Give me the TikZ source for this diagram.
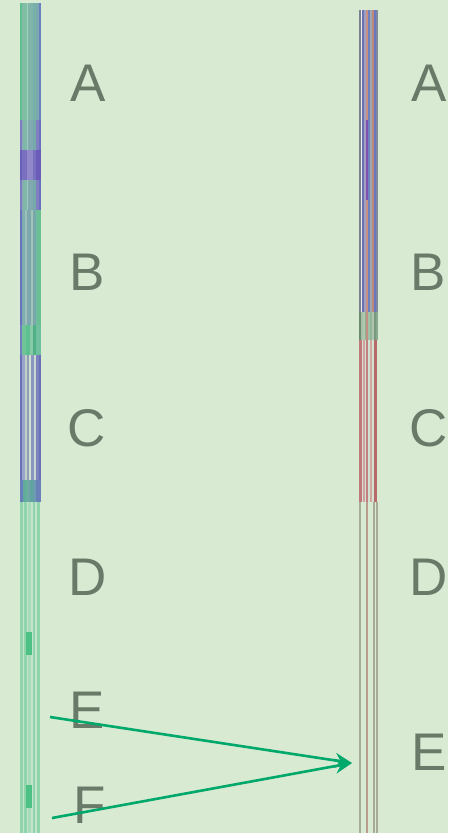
\documentclass[tikz,border=0pt]{standalone}
\usepackage{fontspec}
\setmainfont{Liberation Sans}
\usetikzlibrary{arrows.meta}
\definecolor{fundo}{HTML}{d9ead3}
\definecolor{letra}{HTML}{6a7a68}
\definecolor{seta}{HTML}{00a86b}
\begin{document}
\begin{tikzpicture}[x=1pt, y=-1pt,
  rotulo/.style={font=\fontsize{53}{53}\selectfont, text=letra, inner sep=0pt, anchor=center},
  ligacao/.style={-{Stealth[length=17pt, width=15pt]}, line width=2.6pt, draw=seta}]
% ---- fundo e limites
\fill[fundo] (0,0) rectangle (448,833);
\useasboundingbox (0,0) rectangle (448,833);
% ---- coluna da esquerda
\foreach \ya/\yb/\lista in {
  3/120/{20/22/5cc08f,22/24/86b9a8,24/27/7fc0a5,27/28/a3cfc0,28/33/80b5aa,33/36/76b0a8,36/39/7aa9b0,39/41/6a7fc0},
  120/150/{20/22/7c7cc0,22/24/86b0b0,24/27/7fb8a8,27/28/a3c8c0,28/33/80aab0,33/36/76a8ac,36/39/8080c0,39/41/6a70c0},
  150/180/{20/22/6a60b8,22/27/7a70c0,27/33/9088c8,33/36/7a70c0,36/41/6a5cb8},
  180/210/{20/22/7c7cc0,22/24/86b0b0,24/27/7fb8a8,27/28/a3c8c0,28/33/80aab0,33/36/76a8ac,36/39/8080c0,39/41/6a70c0},
  210/325/{20/22/6a70c0,22/25/80aeb0,25/27/9cc0b8,27/31/7fa8ae,31/33/a0c4b8,33/36/78a8ac,36/39/6cbf9a,39/41/6ac08f},
  325/355/{20/22/7080c0,22/26/70c498,26/30/5cc090,30/33/8ac8a8,33/36/50b088,36/41/70c0a0},
  355/480/{20/22/6a70b8,22/25/9aa4c8,25/27/c0d0c8,27/29/90a0b0,29/31/d0e0d0,31/34/8a98c0,34/36/c8d8d0,36/39/7c84c0,39/41/6a70b8},
  480/502/{20/23/6a80b8,23/25/62a8a0,25/27/60b494,27/30/70a8a8,30/33/5fa4a0,33/36/6a9cb0,36/41/6a80b8},
  502/833/{20/23/8fd4aa,23/24/c4e3cc,24/26.5/8fd4aa,26.5/28/c4e3cc,28/30.5/a8dcb8,30.5/32.5/c4e3cc,32.5/35/8fd4aa,35/36.5/c4e3cc,36.5/40/8fd4aa}}
  {\foreach \xa/\xb/\cor in \lista
    {\definecolor{faixa}{HTML}{\cor}\fill[faixa] (\xa,\ya) rectangle (\xb,\yb);}}
% ---- manchas verdes
\foreach \ya/\yb in {632/655, 785/808}
  {\fill[color={rgb,255:red,76;green,192;blue,133}] (26,\ya) rectangle (32,\yb);}
% ---- coluna da direita
\foreach \ya/\yb/\lista in {
  10/312/{359/360.5/7a8090,360.5/362/eef0ee,362/364/6a70b0,364/366/a0a0c0,366/367.5/c89080,367.5/370/7080c0,370/372/a0a8b0,372/373.5/c08878,373.5/376/6a78c0,376/378/8088a0},
  312/340/{359/361/6a8a70,361/363/a8c0a8,363/365/b0c8b0,365/366/90b098,366/368/c09080,368/370/a0c0a8,370/372/90b898,372/374/b0c4b0,374/376/7a9a80,376/378/8aa890},
  340/502/{359/361.5/c07878,361.5/363/d4e2d2,363/365/d0a0a0,365/366/d4e2d2,366/368/c08080,368/370/d4e2d2,370/372/d0a8a0,372/374/d4e2d2,374/377/b86a6a},
  502/833/{359/361/a8ab98,366/367.5/b89c8c,372.5/374.5/a8ab98,376/377.5/a8ab98}}
  {\foreach \xa/\xb/\cor in \lista
    {\definecolor{faixa}{HTML}{\cor}\fill[faixa] (\xa,\ya) rectangle (\xb,\yb);}}
\fill[color={rgb,255:red,128;green,80;blue,176}] (366,120) rectangle (367.5,200);
% ---- rotulos
\node[rotulo] (aE) at (88,83) {A};
\node[rotulo] (bE) at (87,272) {B};
\node[rotulo] (cE) at (87,428) {C};
\node[rotulo] (dE) at (88,577) {D};
\node[rotulo] (eE) at (87,710) {E};
\node[rotulo] (fE) at (90,805) {F};
\node[rotulo] (aD) at (429,83) {A};
\node[rotulo] (bD) at (428,272) {B};
\node[rotulo] (cD) at (429,428) {C};
\node[rotulo] (dD) at (429,577) {D};
\node[rotulo] (eD) at (429,752) {E};
% ---- setas
\coordinate (origemE) at (50,717);
\coordinate (origemF) at (52,818);
\coordinate (alvo) at (352,763);
\draw[ligacao] (origemE) -- (alvo);
\draw[ligacao] (origemF) -- (alvo);
\end{tikzpicture}
\end{document}
